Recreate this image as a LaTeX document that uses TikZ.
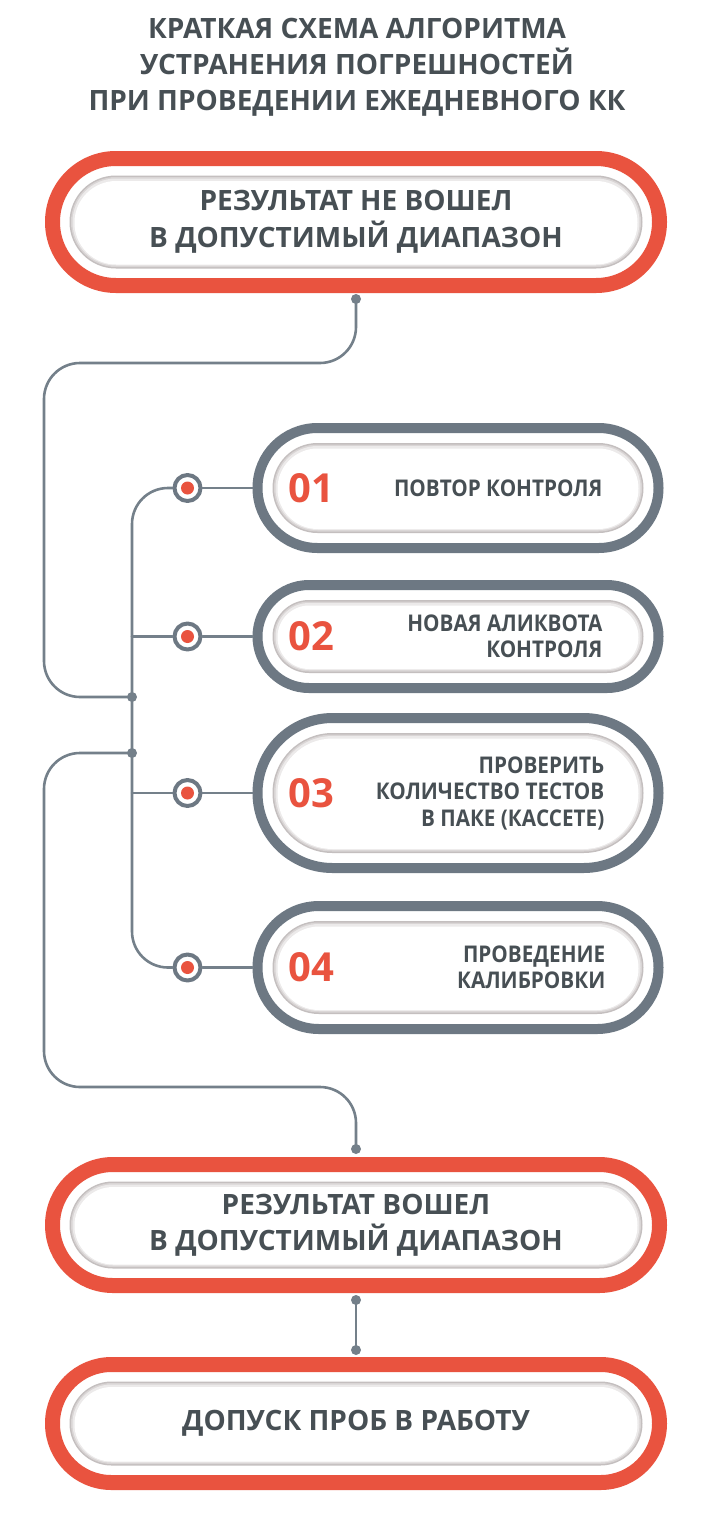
\documentclass[tikz,border=0pt]{standalone}
\usepackage{fontspec}
\setmainfont{Open Sans}
\newfontfamily\condfont{Open Sans}[FakeStretch=0.9]
\usetikzlibrary{calc,positioning}

\definecolor{redc}{HTML}{E9533F}
\definecolor{ringgray}{HTML}{6D7883}
\definecolor{linegray}{HTML}{74808A}
\definecolor{textgray}{HTML}{474F54}
\definecolor{shadeA}{HTML}{C4BFBF}
\definecolor{shadeB}{HTML}{D9D5D5}
\definecolor{shadeC}{HTML}{ECEAEA}

\newcommand{\titlefont}{\fontsize{28}{36}\selectfont\bfseries}
\newcommand{\boxfont}{\fontsize{28}{36.5}\selectfont\bfseries}
\newcommand{\numfont}{\fontsize{40}{40}\selectfont\bfseries}
\newcommand{\stepfont}{\condfont\fontsize{23}{26.5}\selectfont\bfseries}

% inner shadow of a pill, #1 = height, #2 = inset
\newcommand{\pillshade}[2]{%
  \foreach \dd/\shc in {0/shadeA,1.5/shadeB,3/shadeC}{
    \fill[\shc,rounded corners={(#1-2*#2-2*\dd)/2-0.05}]
      ($(path picture bounding box.north west)+(#2+\dd,#2+\dd)$) rectangle
      ($(path picture bounding box.south east)+(-#2-\dd,-#2-\dd)$);
  }
  \fill[white,rounded corners={(#1-2*#2-9.5)/2-0.05}]
    ($(path picture bounding box.north west)+(#2+5,#2+5.5)$) rectangle
    ($(path picture bounding box.south east)+(-#2-5,-#2-4)$);
}

\tikzset{
  redpill/.style={draw=redc,line width=15,fill=white,minimum width=607,
    minimum height=#1,rounded corners=#1/2-0.05,inner sep=0,
    path picture={\pillshade{#1}{17}},font=\boxfont,text=textgray,align=center},
  graypill/.style={draw=ringgray,line width=10,fill=white,minimum width=401,
    minimum height=#1,rounded corners=#1/2-0.05,inner sep=0,
    path picture={\pillshade{#1}{15}}},
  ringdot/.style={circle,draw=ringgray,line width=4,fill=white,minimum size=26,inner sep=0,
    path picture={\fill[redc] (path picture bounding box.center) circle[radius=6.5];}},
  joint/.style={circle,fill=linegray,minimum size=10,inner sep=0},
  conn/.style={draw=linegray,line width=2.6,rounded corners=36},
  numtxt/.style={inner sep=0,text=redc,font=\numfont},
  steptxt/.style={inner sep=0,text=textgray,font=\stepfont,align=right}
}

\begin{document}
\begin{tikzpicture}[x=1pt,y=-1pt,line cap=round,line join=round]
  \fill[white] (0,0) rectangle (715,1520);
  \useasboundingbox (0,0) rectangle (715,1520);

  \node[font=\titlefont,text=textgray,align=center] (title) at (357,67)
    {КРАТКАЯ СХЕМА АЛГОРИТМА\\УСТРАНЕНИЯ ПОГРЕШНОСТЕЙ\\ПРИ ПРОВЕДЕНИИ ЕЖЕДНЕВНОГО КК};

  \node[redpill=127] (fail) at (356,222) {РЕЗУЛЬТАТ НЕ ВОШЕЛ\\В ДОПУСТИМЫЙ ДИАПАЗОН};
  \node[redpill=121] (pass) at (356,1225) {РЕЗУЛЬТАТ ВОШЕЛ\\В ДОПУСТИМЫЙ ДИАПАЗОН};
  \node[redpill=118] (go) at (356,1423.5) {ДОПУСК ПРОБ В РАБОТУ};

  % steps
  \node[graypill=120] (p1) at (458,488) {};
  \node[graypill=103] (p2) at (458,636.5) {};
  \node[graypill=150] (p3) at (458,793) {};
  \node[graypill=123] (p4) at (458,967.5) {};

  \node[numtxt,right=36pt of p1.west] (n1) {01};
  \node[numtxt,right=36pt of p2.west] (n2) {02};
  \node[numtxt,right=36pt of p3.west] (n3) {03};
  \node[numtxt,right=36pt of p4.west] (n4) {04};

  \node[steptxt,left=61pt of p1.east] (s1) {ПОВТОР КОНТРОЛЯ};
  \node[steptxt,left=61pt of p2.east] (s2) {НОВАЯ АЛИКВОТА\\КОНТРОЛЯ};
  \node[steptxt,left=59pt of p3.east] (s3) {ПРОВЕРИТЬ\\КОЛИЧЕСТВО ТЕСТОВ\\В ПАКЕ (КАССЕТЕ)};
  \node[steptxt,left=58pt of p4.east] (s4) {ПРОВЕДЕНИЕ\\КАЛИБРОВКИ};

  \foreach \i in {1,...,4}{
    \node[ringdot,left=50pt of p\i.west] (c\i) {};
  }

  % joints
  \node[joint] (j1) at (132,697) {};
  \node[joint] (j2) at (132,753) {};
  \node[joint] (dfail) at ([yshift=-6pt]fail.south) {};
  \node[joint] (dpass) at ([yshift=8pt]pass.north) {};
  \node[joint] (dpass2) at ([yshift=-7pt]pass.south) {};
  \node[joint] (dgo) at ([yshift=7pt]go.north) {};

  % connectors
  \draw[conn] (dfail.center) |- (44,363) |- (j1.center);
  \draw[conn] (c1.west) -| (j1.center) -- (j2.center) |- (c4.west);
  \draw[conn] (c2.west) -- (c2.west -| j1.center);
  \draw[conn] (c3.west) -- (c3.west -| j1.center);
  \foreach \i in {1,...,4}{
    \draw[conn] (c\i.east) -- (p\i.west);
  }
  \draw[conn] (j2.center) -| (44,1087) -| (dpass.center);
  \draw[conn] (dpass2.center) -- (dgo.center);
\end{tikzpicture}
\end{document}
